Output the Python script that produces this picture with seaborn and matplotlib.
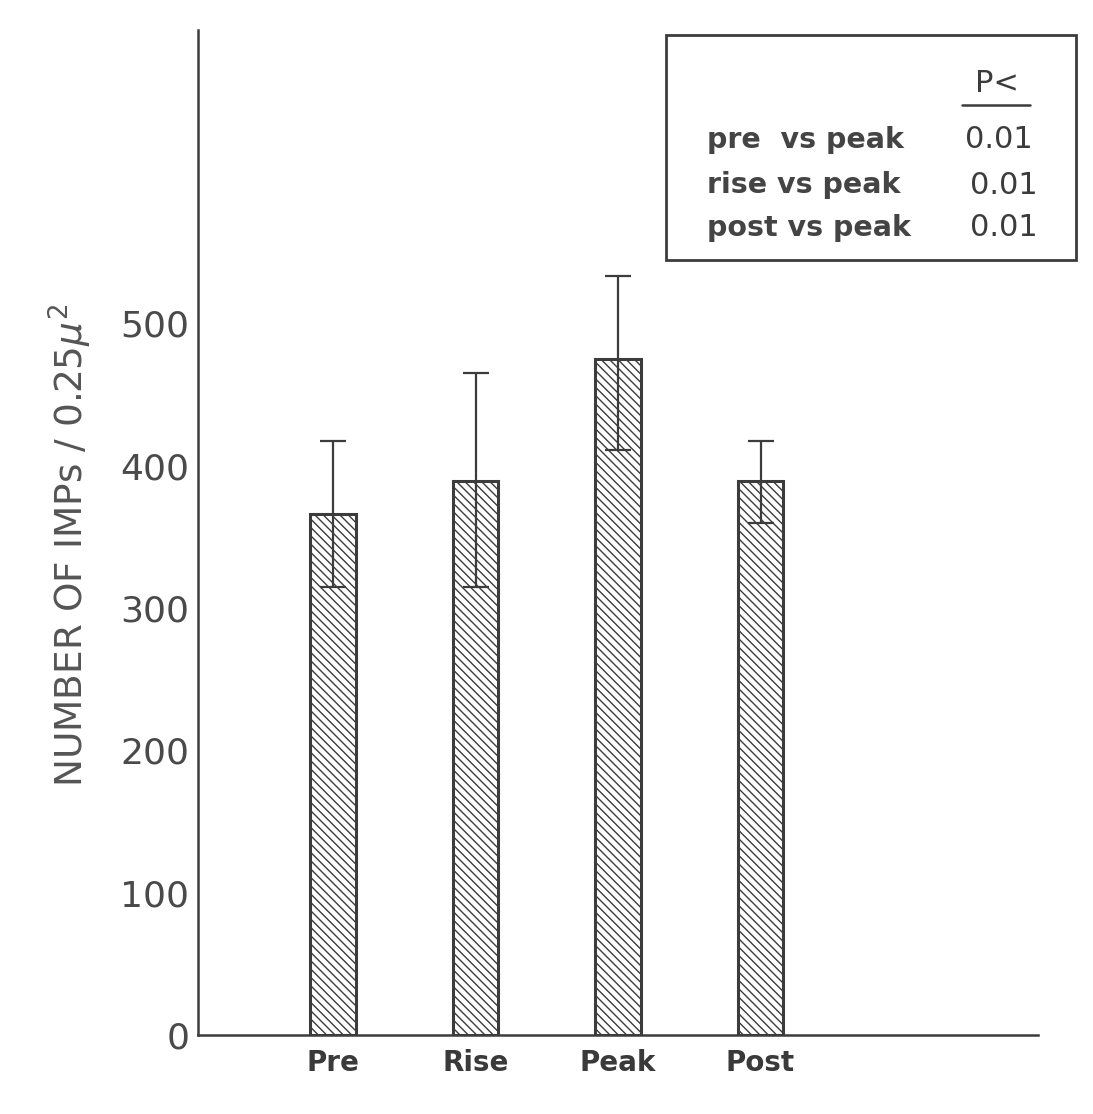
import matplotlib
matplotlib.use('Agg')
import matplotlib.pyplot as plt
import seaborn as sns
import pandas as pd
from matplotlib.patches import Rectangle
from matplotlib.lines import Line2D

# data
phases = ['Pre', 'Rise', 'Peak', 'Post']
means = [366, 389, 475, 389]
err_low = [51, 74, 64, 29]
err_high = [51, 76, 58, 28]
y_ticks = [0, 100, 200, 300, 400, 500]
comparisons = ['pre  vs peak', 'rise vs peak', 'post vs peak']
p_values = ['0.01', '0.01', '0.01']

ink = '#3c3c3c'

sns.set_style('white')
plt.rcParams['font.family'] = ['DejaVu Sans']
plt.rcParams['hatch.color'] = '#555555'
plt.rcParams['hatch.linewidth'] = 1.0

df = pd.DataFrame({'phase': phases, 'imps': means})

fig = plt.figure(figsize=(10.93, 11.14), dpi=100)
ax = fig.add_axes([0.181, 0.071, 0.769, 0.902])

sns.barplot(x='phase', y='imps', data=df, ax=ax, color='white',
            edgecolor=ink, linewidth=2.2, width=0.32, hatch='\\\\\\\\',
            errorbar=None)
ax.errorbar(range(len(phases)), means, yerr=[err_low, err_high], fmt='none',
            ecolor=ink, elinewidth=1.6, capsize=9.5, capthick=1.6, zorder=5)

ax.set_xlim(-0.95, 4.95)
ax.set_ylim(0, 706)
ax.set_yticks(y_ticks)
ax.set_yticklabels([str(v) for v in y_ticks], fontsize=26, color='#4a4a4a')
ax.tick_params(axis='y', direction='in', length=9, width=1.6, color=ink, pad=6)
ax.tick_params(axis='x', length=0, pad=10)
for lab in ax.get_xticklabels():
    lab.set_fontsize(20)
    lab.set_fontweight('bold')
    lab.set_color('#3a3a3a')
ax.set_xlabel('')
ax.set_ylabel(r'NUMBER OF IMPs / 0.25$\mu^2$', fontsize=27, color='#555555')
ax.yaxis.set_label_coords(-0.123, 0.4876)

for s in ['top', 'right']:
    ax.spines[s].set_visible(False)
for s in ['left', 'bottom']:
    ax.spines[s].set_color(ink)
    ax.spines[s].set_linewidth(1.8)

# significance box
W, H = 1093.0, 1114.0
def fx(px):
    return px / W
def fy(py):
    return 1 - py / H

fig.patches.append(Rectangle((fx(666), fy(260)), fx(1076) - fx(666), fy(35) - fy(260),
                             transform=fig.transFigure, fill=False,
                             edgecolor=ink, linewidth=2))
fig.text(fx(997), fy(84), 'P<', fontsize=22, color=ink, ha='center', va='center')
fig.lines.append(Line2D([fx(962), fx(1030)], [fy(105), fy(105)],
                        transform=fig.transFigure, color=ink, linewidth=1.8))
rows_y = [140, 185, 228]
p_right = [1033, 1038, 1038]
for name, p, yy, xr in zip(comparisons, p_values, rows_y, p_right):
    fig.text(fx(707), fy(yy), name, fontsize=20.5, fontweight='bold', color='#444444',
             ha='left', va='center')
    fig.text(fx(xr), fy(yy), p, fontsize=22, color=ink, ha='right', va='center')

plt.savefig('out.png', dpi=100)
